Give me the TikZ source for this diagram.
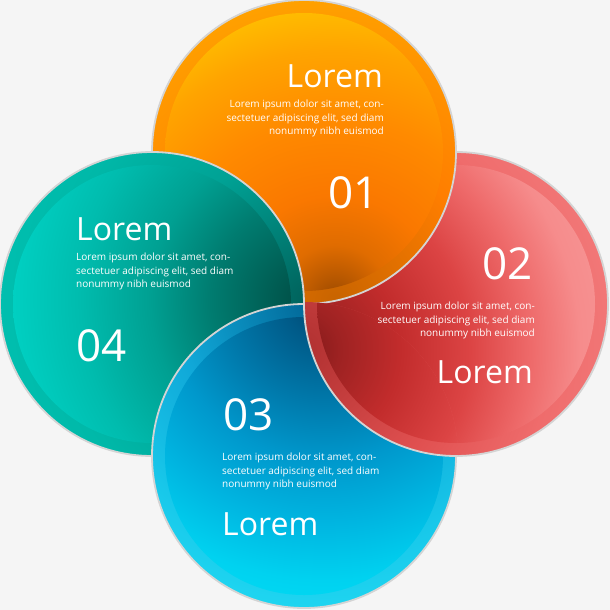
\documentclass[tikz,border=0pt]{standalone}
\usepackage{fontspec}
\setmainfont{Open Sans}
\usetikzlibrary{calc}
\definecolor{bgc}{HTML}{F5F5F5}
\definecolor{edgec}{HTML}{D4D4D4}
% stops: 25bp corresponds to 320px from the shading centre
% orange
\definecolor{o0}{HTML}{984800}\definecolor{o1}{HTML}{B85800}\definecolor{o2}{HTML}{E06C00}\definecolor{o3}{HTML}{FA7800}\definecolor{o4}{HTML}{FF8A00}\definecolor{o5}{HTML}{FFA400}\definecolor{o6}{HTML}{FFC000}\definecolor{o7}{HTML}{FFC800}
\definecolor{oo0}{HTML}{C86400}\definecolor{oo1}{HTML}{FF7E00}\definecolor{oo2}{HTML}{FF8E00}\definecolor{oo3}{HTML}{FFA000}\definecolor{oo4}{HTML}{FFA800}
\pgfdeclareradialshading{orin}{\pgfpoint{0bp}{0bp}}{color(0bp)=(o0); color(1.8bp)=(o1); color(4.3bp)=(o2); color(8.2bp)=(o3); color(14bp)=(o4); color(19.5bp)=(o5); color(23.4bp)=(o6); color(25bp)=(o7); color(50bp)=(o7)}
\pgfdeclareradialshading{orring}{\pgfpoint{0bp}{0bp}}{color(0bp)=(oo0); color(11.7bp)=(oo1); color(17.2bp)=(oo2); color(23.4bp)=(oo3); color(25bp)=(oo4); color(50bp)=(oo4)}
% red
\definecolor{r0}{HTML}{7E1818}\definecolor{r1}{HTML}{9E2222}\definecolor{r2}{HTML}{C22C2C}\definecolor{r3}{HTML}{DC4444}\definecolor{r4}{HTML}{EE6A6A}\definecolor{r5}{HTML}{F68C8C}\definecolor{r6}{HTML}{F79494}
\definecolor{rr0}{HTML}{B03030}\definecolor{rr1}{HTML}{E05050}\definecolor{rr2}{HTML}{EF6C6C}\definecolor{rr3}{HTML}{F27878}
\pgfdeclareradialshading{redin}{\pgfpoint{0bp}{0bp}}{color(0bp)=(r0); color(3.1bp)=(r1); color(7.8bp)=(r2); color(13.3bp)=(r3); color(18bp)=(r4); color(21.9bp)=(r5); color(25bp)=(r6); color(50bp)=(r6)}
\pgfdeclareradialshading{redring}{\pgfpoint{0bp}{0bp}}{color(0bp)=(rr0); color(11.7bp)=(rr1); color(19.5bp)=(rr2); color(25bp)=(rr3); color(50bp)=(rr3)}
% blue
\definecolor{b0}{HTML}{00426A}\definecolor{b1}{HTML}{005A88}\definecolor{b2}{HTML}{0078AA}\definecolor{b3}{HTML}{0098CC}\definecolor{b4}{HTML}{00B4E0}\definecolor{b5}{HTML}{00D2F0}\definecolor{b6}{HTML}{00DCF4}
\definecolor{bb0}{HTML}{006090}\definecolor{bb1}{HTML}{10A8D8}\definecolor{bb2}{HTML}{18C8EA}\definecolor{bb3}{HTML}{20D8F2}
\pgfdeclareradialshading{bluein}{\pgfpoint{0bp}{0bp}}{color(0bp)=(b0); color(3.1bp)=(b1); color(7.8bp)=(b2); color(12.5bp)=(b3); color(17.2bp)=(b4); color(21.9bp)=(b5); color(25bp)=(b6); color(50bp)=(b6)}
\pgfdeclareradialshading{bluering}{\pgfpoint{0bp}{0bp}}{color(0bp)=(bb0); color(11.7bp)=(bb1); color(19.5bp)=(bb2); color(25bp)=(bb3); color(50bp)=(bb3)}
% teal
\definecolor{t0}{HTML}{004A42}\definecolor{t1}{HTML}{005E54}\definecolor{t2}{HTML}{007C70}\definecolor{t3}{HTML}{00A092}\definecolor{t4}{HTML}{00BCAE}\definecolor{t5}{HTML}{00D0C2}\definecolor{t6}{HTML}{00D4C6}
\definecolor{tt0}{HTML}{00605A}\definecolor{tt1}{HTML}{00A295}\definecolor{tt2}{HTML}{00B8A8}\definecolor{tt3}{HTML}{00C0B0}
\pgfdeclareradialshading{tealin}{\pgfpoint{0bp}{0bp}}{color(0bp)=(t0); color(3.1bp)=(t1); color(7.8bp)=(t2); color(12.5bp)=(t3); color(18bp)=(t4); color(23.4bp)=(t5); color(25bp)=(t6); color(50bp)=(t6)}
\pgfdeclareradialshading{tealring}{\pgfpoint{0bp}{0bp}}{color(0bp)=(tt0); color(11.7bp)=(tt1); color(19.5bp)=(tt2); color(25bp)=(tt3); color(50bp)=(tt3)}
% circle macro: #1 cx, #2 cy, #3 shading centre x, #4 y, #5 ring shading, #6 inner shading
\newcommand{\mydisc}[6]{%
  \begin{scope}
    \clip (#1,#2) circle[radius=152pt];
    \shade[shading=#5] (#3-320,#4-320) rectangle (#3+320,#4+320);
    \clip (#1,#2) circle[radius=139pt];
    \shade[shading=#6] (#3-320,#4-320) rectangle (#3+320,#4+320);
  \end{scope}
  \draw[edge] (#1,#2) circle[radius=152pt];
}
\begin{document}
\begin{tikzpicture}[x=1pt,y=-1pt,
  edge/.style={draw=edgec,line width=1.8pt},
  big/.style={text=white,inner sep=0pt,font=\fontsize{32}{36}\selectfont},
  num/.style={text=white,inner sep=0pt,font=\fontsize{44}{48}\selectfont},
  para/.style={text=white,inner sep=0pt,font=\fontsize{10}{13.3}\selectfont}]
\useasboundingbox (0,0) rectangle (610,610);
\fill[bgc] (0,0) rectangle (610,610);
% red, orange, teal, blue
\mydisc{456}{304}{300}{350}{redring}{redin}
\mydisc{304}{152}{335}{300}{orring}{orin}
\mydisc{152}{304}{310}{300}{tealring}{tealin}
\mydisc{304}{456}{325}{300}{bluering}{bluein}
% red over blue
\begin{scope}
  \clip (304,456) circle[radius=154pt];
  \mydisc{456}{304}{300}{350}{redring}{redin}
\end{scope}
% texts orange
\node[big,anchor=base east] (oL) at (383,88) {Lorem};
\node[para,anchor=north east,align=right] (oP) at (384,100) {Lorem ipsum dolor sit amet, con-\\sectetuer adipiscing elit, sed diam\\nonummy nibh euismod};
\node[num,anchor=base east] (oN) at (379,208) {01};
% red
\node[num,anchor=base east] (rN) at (533,279) {02};
\node[para,anchor=north east,align=right] (rP) at (535,302) {Lorem ipsum dolor sit amet, con-\\sectetuer adipiscing elit, sed diam\\nonummy nibh euismod};
\node[big,anchor=base east] (rL) at (533,383) {Lorem};
% blue
\node[num,anchor=base west] (bN) at (223,430) {03};
\node[para,anchor=north west,align=left] (bP) at (222,453) {Lorem ipsum dolor sit amet, con-\\sectetuer adipiscing elit, sed diam\\nonummy nibh euismod};
\node[big,anchor=base west] (bL) at (222,535) {Lorem};
% teal
\node[big,anchor=base west] (tL) at (76,240) {Lorem};
\node[para,anchor=north west,align=left] (tP) at (76,253) {Lorem ipsum dolor sit amet, con-\\sectetuer adipiscing elit, sed diam\\nonummy nibh euismod};
\node[num,anchor=base west] (tN) at (76,361) {04};
\end{tikzpicture}
\end{document}
